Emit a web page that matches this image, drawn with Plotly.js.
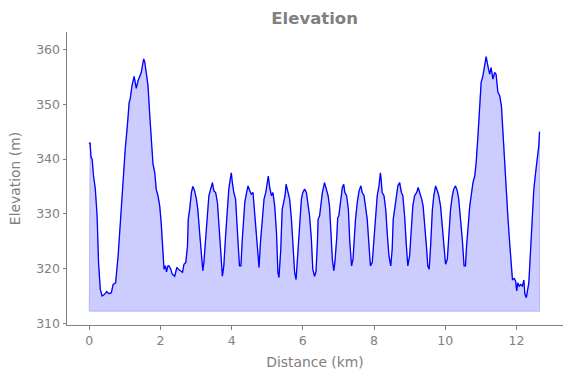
<!DOCTYPE html>
<html>
<head>
<meta charset="utf-8">
<script src="https://cdn.plot.ly/plotly-3.0.1.min.js"></script>
<style>html,body{margin:0;padding:0;background:#fff;}#chart{width:571px;height:378px;}</style>
</head>
<body>
<div id="chart"></div>
<script>
// Distance (km)
const distanceKm = [
0, 0.02, 0.05, 0.08, 0.12, 0.17, 0.22, 0.26, 0.31, 0.36,
0.43, 0.49, 0.55, 0.62, 0.67, 0.74, 0.81, 0.88, 0.95, 1.01,
1.07, 1.12, 1.15, 1.20, 1.26, 1.29, 1.32, 1.37, 1.42, 1.46,
1.50, 1.53, 1.56, 1.60, 1.65, 1.70, 1.74, 1.79, 1.84, 1.88,
1.93, 1.98, 2.02, 2.07, 2.10, 2.14, 2.17, 2.21, 2.24, 2.29,
2.33, 2.40, 2.46, 2.50, 2.57, 2.62, 2.66, 2.71, 2.76, 2.78,
2.82, 2.87, 2.91, 2.96, 3.01, 3.05, 3.10, 3.15, 3.19, 3.22,
3.27, 3.32, 3.36, 3.41, 3.46, 3.50, 3.55, 3.60, 3.64, 3.69,
3.74, 3.78, 3.83, 3.88, 3.92, 3.96, 3.99, 4.02, 4.06, 4.11,
4.14, 4.18, 4.22, 4.26, 4.30, 4.33, 4.37, 4.42, 4.46, 4.51,
4.55, 4.60, 4.63, 4.67, 4.72, 4.77, 4.81, 4.86, 4.91, 4.96,
5.00, 5.03, 5.07, 5.12, 5.16, 5.21, 5.26, 5.30, 5.33, 5.38,
5.42, 5.47, 5.50, 5.53, 5.58, 5.63, 5.68, 5.72, 5.77, 5.81,
5.86, 5.91, 5.96, 6.00, 6.05, 6.10, 6.14, 6.19, 6.24, 6.28,
6.33, 6.37, 6.41, 6.43, 6.47, 6.50, 6.55, 6.61, 6.66, 6.71,
6.75, 6.79, 6.83, 6.87, 6.90, 6.95, 6.98, 7.01, 7.06, 7.11,
7.15, 7.18, 7.23, 7.28, 7.32, 7.37, 7.41, 7.45, 7.48, 7.53,
7.58, 7.63, 7.67, 7.72, 7.76, 7.81, 7.86, 7.90, 7.95, 8.00,
8.04, 8.09, 8.14, 8.18, 8.20, 8.23, 8.28, 8.33, 8.37, 8.42,
8.47, 8.51, 8.54, 8.58, 8.63, 8.67, 8.72, 8.77, 8.81, 8.86,
8.91, 8.95, 9.00, 9.05, 9.09, 9.14, 9.20, 9.24, 9.29, 9.34,
9.38, 9.43, 9.48, 9.51, 9.55, 9.59, 9.64, 9.68, 9.73, 9.78,
9.82, 9.87, 9.92, 9.96, 10.01, 10.06, 10.10, 10.15, 10.20, 10.24,
10.29, 10.34, 10.38, 10.43, 10.48, 10.53, 10.57, 10.60, 10.65, 10.69,
10.73, 10.78, 10.83, 10.87, 10.92, 10.97, 11.01, 11.06, 11.11, 11.15,
11.20, 11.25, 11.29, 11.34, 11.39, 11.43, 11.48, 11.53, 11.58, 11.62,
11.67, 11.72, 11.76, 11.81, 11.86, 11.89, 11.94, 11.98, 12.01, 12.04,
12.08, 12.12, 12.17, 12.21, 12.24, 12.28, 12.31, 12.35, 12.40, 12.45,
12.49, 12.54, 12.58, 12.63, 12.65
];
// Elevation (m)
const elevationM = [
342.7, 343.0, 340.3, 340.0, 336.9, 334.5, 329.6, 321.1, 316.2, 315.0,
315.3, 315.8, 315.4, 315.6, 317.1, 317.4, 322.3, 329.6, 335.7, 341.8,
346.1, 350.3, 351.0, 353.4, 355.1, 354.0, 352.9, 354.3, 355.2, 355.8,
357.3, 358.3, 357.7, 355.8, 353.4, 347.9, 343.0, 339.1, 337.5, 334.5,
333.3, 331.4, 328.4, 323.5, 319.9, 320.5, 319.4, 320.5, 320.5, 319.9,
319.0, 318.6, 320.2, 319.9, 319.6, 319.3, 320.8, 321.1, 324.1, 329.0,
330.8, 333.9, 335.0, 334.2, 332.7, 330.8, 326.6, 322.3, 319.6, 321.1,
326.0, 330.2, 333.3, 334.5, 335.7, 334.2, 333.9, 332.1, 329.0, 323.5,
318.6, 320.5, 326.0, 331.4, 334.5, 336.3, 337.5, 335.7, 333.9, 332.7,
328.4, 324.8, 320.5, 320.5, 325.4, 329.3, 332.1, 333.9, 335.1, 334.2,
333.6, 333.9, 331.4, 327.8, 322.9, 320.2, 324.8, 329.3, 332.7, 333.9,
335.7, 336.9, 334.8, 333.3, 333.9, 331.4, 326.6, 319.3, 318.4, 323.5,
330.8, 332.1, 333.3, 335.4, 333.9, 332.7, 329.0, 324.1, 319.3, 318.0,
322.9, 329.0, 332.7, 333.9, 334.5, 333.9, 332.1, 329.6, 325.4, 319.9,
318.6, 319.5, 324.8, 329.0, 329.6, 331.4, 333.9, 335.7, 334.2, 333.3,
331.4, 326.0, 321.7, 319.6, 321.1, 325.4, 329.3, 329.6, 332.7, 334.8,
335.4, 333.9, 333.3, 330.8, 324.8, 320.5, 321.7, 326.6, 329.0, 332.1,
334.2, 335.1, 333.9, 333.3, 331.4, 329.0, 324.1, 320.5, 321.1, 326.0,
329.6, 333.3, 335.1, 337.5, 336.3, 333.9, 333.3, 330.8, 326.6, 322.3,
320.5, 323.5, 329.0, 330.8, 333.9, 335.1, 335.7, 333.9, 333.3, 329.6,
324.1, 320.5, 322.3, 327.8, 331.4, 333.3, 333.9, 334.8, 333.9, 332.7,
331.4, 327.8, 323.5, 320.5, 319.9, 324.1, 330.8, 333.3, 335.1, 334.2,
333.3, 331.4, 327.8, 323.5, 320.8, 321.7, 326.0, 330.8, 333.3, 334.5,
335.1, 334.2, 332.7, 329.6, 325.4, 320.5, 320.5, 324.1, 329.0, 331.4,
333.3, 335.7, 336.9, 339.4, 344.2, 349.1, 354.0, 355.2, 357.0, 358.7,
357.0, 355.5, 356.7, 354.6, 355.8, 355.5, 352.2, 351.6, 349.7, 344.9,
338.8, 334.5, 329.6, 324.8, 321.1, 318.0, 318.2, 317.7, 315.9, 317.4,
316.8, 317.1, 316.8, 317.9, 315.3, 314.7, 315.9, 317.4, 323.5, 329.6,
334.5, 337.5, 340.0, 342.4, 345.0
];
const fillBaseM = 312.2;
const xTickVals = [0, 2, 4, 6, 8, 10, 12];
const yTickVals = [310, 320, 330, 340, 350, 360];

const first = distanceKm[0], last = distanceKm[distanceKm.length - 1];
const polyX = [first].concat(distanceKm, [last, first]);
const polyY = [fillBaseM].concat(elevationM, [fillBaseM, fillBaseM]);

const gray = '#808080';
const traces = [
  {x: polyX, y: polyY, type: 'scatter', mode: 'lines', fill: 'toself',
   fillcolor: 'rgba(0,0,255,0.2)', line: {color: 'rgba(0,0,255,0.2)', width: 1},
   hoverinfo: 'skip', showlegend: false},
  {x: distanceKm, y: elevationM, type: 'scatter', mode: 'lines',
   line: {color: '#0000ff', width: 1.3}, showlegend: false}
];
const layout = {
  width: 571, height: 378,
  margin: {l: 67, r: 8, t: 32, b: 53, pad: 0},
  paper_bgcolor: '#ffffff', plot_bgcolor: '#ffffff',
  font: {family: 'DejaVu Sans, sans-serif', color: gray, size: 12},
  title: {text: '<b>Elevation</b>', font: {size: 16.5, color: gray, family: 'DejaVu Sans, sans-serif'},
          x: 0.551, xanchor: 'center', y: 0.952, yanchor: 'middle'},
  xaxis: {
    range: [-0.626, 13.31], tickvals: xTickVals, ticktext: xTickVals.map(String),
    showgrid: false, zeroline: false, showline: true, linecolor: gray, linewidth: 1,
    ticks: 'outside', ticklen: 3.5, tickcolor: gray, tickfont: {size: 12.5, color: gray},
    title: {text: 'Distance (km)', font: {size: 13.9, color: gray}, standoff: 10},
    automargin: false
  },
  yaxis: {
    range: [309.7, 363.2], tickvals: yTickVals, ticktext: yTickVals.map(String),
    showgrid: false, zeroline: false, showline: true, linecolor: gray, linewidth: 1,
    ticks: 'outside', ticklen: 3.5, tickcolor: gray, tickfont: {size: 12.5, color: gray},
    title: {text: 'Elevation (m)', font: {size: 13.9, color: gray}, standoff: 12},
    automargin: false
  }
};
Plotly.newPlot('chart', traces, layout, {displayModeBar: false, staticPlot: true});
</script>
</body>
</html>
